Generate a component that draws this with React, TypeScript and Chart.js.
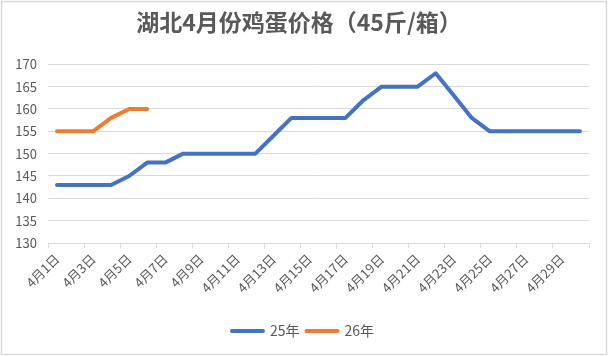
import { useEffect, useRef } from 'react';
import { Chart, registerables } from 'chart.js';

Chart.register(...registerables);

const chartTitle = '湖北4月份鸡蛋价格（45斤/箱）';
const dates = [
  '4月1日', '4月2日', '4月3日', '4月4日', '4月5日', '4月6日', '4月7日', '4月8日', '4月9日', '4月10日',
  '4月11日', '4月12日', '4月13日', '4月14日', '4月15日', '4月16日', '4月17日', '4月18日', '4月19日', '4月20日',
  '4月21日', '4月22日', '4月23日', '4月24日', '4月25日', '4月26日', '4月27日', '4月28日', '4月29日', '4月30日',
];
const seriesNames = ['25年', '26年'];
const prices25 = [143, 143, 143, 143, 145, 148, 148, 150, 150, 150, 150, 150, 154, 158, 158, 158, 158, 162, 165, 165, 165, 168, 163, 158, 155, 155, 155, 155, 155, 155];
const prices26 = [155, 155, 155, 158, 160, 160];
const yMin = 130;
const yMax = 170;
const yStep = 5;

const FONT = '"Noto Sans CJK SC", "Noto Sans", sans-serif';
const TEXT = '#595959';
const GRID = '#d9d9d9';
const COLORS = ['#4472C4', '#ED7D31'];

const borderPlugin = {
  id: 'outerBorder',
  afterDraw(chart: any) {
    const ctx = chart.ctx;
    ctx.save();
    ctx.strokeStyle = '#d9d9d9';
    ctx.lineWidth = 1.5;
    ctx.strokeRect(1.5, 1.5, 605, 353);
    ctx.restore();
  },
};

// Legend drawn at the bottom from the datasets' own labels and colours
const bottomLegend = {
  id: 'bottomLegend',
  afterDraw(chart: any) {
    const ctx = chart.ctx;
    const lineW = 35;
    const gap = 5;
    const itemGap = 5;
    ctx.save();
    ctx.font = `14px ${FONT}`;
    ctx.textBaseline = 'middle';
    ctx.textAlign = 'left';
    const items = chart.data.datasets.map((d: any) => ({
      text: d.label,
      color: d.borderColor,
      w: lineW + gap + ctx.measureText(d.label).width,
    }));
    const total = items.reduce((s: number, it: any) => s + it.w, 0) + itemGap * (items.length - 1);
    let x = chart.width / 2 - 2 - total / 2;
    const y = 331;
    items.forEach((it: any) => {
      ctx.strokeStyle = it.color;
      ctx.lineWidth = 4;
      ctx.lineCap = 'round';
      ctx.beginPath();
      ctx.moveTo(x + 2, y);
      ctx.lineTo(x + lineW - 2, y);
      ctx.stroke();
      ctx.fillStyle = TEXT;
      ctx.fillText(it.text, x + lineW + gap, y);
      x += it.w + itemGap;
    });
    ctx.restore();
  },
};

export default function App() {
  const ref = useRef<HTMLCanvasElement | null>(null);

  useEffect(() => {
    if (!ref.current) return;
    Chart.defaults.font.family = FONT;
    const chart = new Chart(ref.current, {
      type: 'line',
      data: {
        labels: dates,
        datasets: [
          {
            label: seriesNames[0],
            data: prices25,
            borderColor: COLORS[0],
            backgroundColor: COLORS[0],
            borderWidth: 4,
            pointRadius: 0,
            tension: 0,
            borderCapStyle: 'round',
            borderJoinStyle: 'round',
          },
          {
            label: seriesNames[1],
            data: prices26,
            borderColor: COLORS[1],
            backgroundColor: COLORS[1],
            borderWidth: 4,
            pointRadius: 0,
            tension: 0,
            borderCapStyle: 'round',
            borderJoinStyle: 'round',
          },
        ],
      },
      options: {
        responsive: false,
        animation: false,
        devicePixelRatio: 1,
        layout: { padding: { top: 0, left: 9, right: 19, bottom: 38 } },
        plugins: {
          title: {
            display: true,
            text: chartTitle,
            color: TEXT,
            font: { family: FONT, size: 23, weight: 'bold' },
            padding: { top: 8, bottom: 28.7 },
          },
          legend: { display: false },
          tooltip: { enabled: false },
        },
        scales: {
          x: {
            type: 'category',
            offset: true,
            grid: {
              offset: true,
              drawOnChartArea: false,
              drawTicks: true,
              tickLength: 5,
              color: (ctx: any) =>
                ctx.index === undefined || ctx.index % 2 === 0 ? GRID : 'rgba(0,0,0,0)',
            },
            border: { display: true, color: GRID },
            ticks: {
              autoSkip: false,
              maxRotation: 45,
              minRotation: 45,
              color: TEXT,
              font: { family: FONT, size: 13 },
              padding: 3,
              callback: (_v: any, i: number) => (i % 2 === 0 ? dates[i] : ''),
            },
            afterFit: (s: any) => {
              s.height = 75;
            },
          },
          y: {
            min: yMin,
            max: yMax,
            grid: { color: GRID, drawTicks: false },
            border: { display: false },
            ticks: {
              stepSize: yStep,
              color: TEXT,
              font: { family: FONT, size: 13 },
              padding: 11,
            },
            afterFit: (s: any) => {
              s.width = 39;
            },
          },
        },
      },
      plugins: [borderPlugin, bottomLegend],
    });
    return () => chart.destroy();
  }, []);

  return (
    <div style={{ position: 'fixed', left: 0, top: 0, width: 608, height: 356, background: '#fff' }}>
      <canvas ref={ref} width={608} height={356} style={{ width: 608, height: 356, display: 'block' }} />
    </div>
  );
}
